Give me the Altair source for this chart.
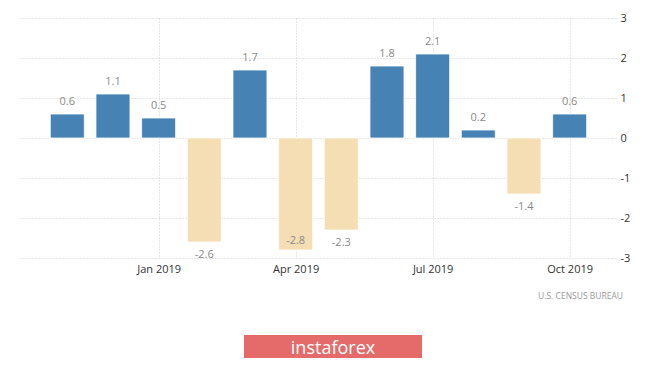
import altair as alt
import pandas as pd

months = ["Nov 2018", "Dec 2018", "Jan 2019", "Feb 2019", "Mar 2019", "Apr 2019",
          "May 2019", "Jun 2019", "Jul 2019", "Aug 2019", "Sep 2019", "Oct 2019"]
values = [0.6, 1.1, 0.5, -2.6, 1.7, -2.8, -2.3, 1.8, 2.1, 0.2, -1.4, 0.6]
tick_idx = [2, 5, 8, 11]
tick_labels = ["Jan 2019", "Apr 2019", "Jul 2019", "Oct 2019"]
y_ticks = [-3, -2, -1, 0, 1, 2, 3]
source_text = "U.S.  CENSUS  BUREAU"
brand_text = "instaforex"

df = pd.DataFrame({"idx": list(range(len(months))), "month": months, "value": values})
df["sign"] = ["pos" if v >= 0 else "neg" for v in values]
df["lt"] = [f"{v:.1f}" for v in values]

label_expr = " : ".join(
    [f"datum.value == {i} ? '{l}'" for i, l in zip(tick_idx, tick_labels)]
) + " : ''"

FONT = "Open Sans"

x_scale = alt.Scale(domain=[-0.926, 11.818], nice=False, zero=False)
y_scale = alt.Scale(domain=[-3, 3], nice=False)

x_axis = alt.Axis(
    values=tick_idx, labelExpr=label_expr, title=None, grid=True,
    gridDash=[1, 2], gridColor="#cfcfcf", domain=False, ticks=False,
    labelPadding=5, labelFontSize=11, labelColor="#333333", labelFont=FONT,
    labelOverlap=False,
)
y_axis = alt.Axis(
    orient="right", values=y_ticks, title=None, grid=True, gridDash=[1, 2],
    gridColor="#cfcfcf", domain=False, ticks=True, tickSize=5, tickColor="#cfcfcf",
    tickDash=[1, 2], labelPadding=3, labelFontSize=11, labelColor="#333333",
    labelFont=FONT, labelOverlap=False, labelBound=False, labelExpr="datum.value + ''",
)

base = alt.Chart(df)

bars = base.mark_bar(size=34, stroke="white", strokeWidth=0.8).encode(
    x=alt.X("idx:Q", scale=x_scale, axis=x_axis),
    y=alt.Y("value:Q", scale=y_scale, axis=y_axis),
    color=alt.Color("sign:N", scale=alt.Scale(domain=["pos", "neg"], range=["#4682b4", "#f5deb3"]), legend=None),
)

labels = base.transform_calculate(
    ly="datum.value >= 0 ? datum.value + 0.3 : (datum.value - 0.32 < -3 ? datum.value + 0.22 : datum.value - 0.32)",
).mark_text(fontSize=11, font=FONT, color="#8a8a8a", baseline="middle").encode(
    x=alt.X("idx:Q", scale=x_scale, axis=x_axis),
    y=alt.Y("ly:Q", scale=y_scale, axis=y_axis),
    text="lt:N",
)

src = alt.Chart(pd.DataFrame({"t": [source_text]})).mark_text(
    align="right", baseline="middle", fontSize=8.5, font=FONT, color="#999999"
).encode(x=alt.value(603), y=alt.value(278), text="t:N")

btn = alt.Chart(pd.DataFrame({"t": [brand_text]})).mark_rect(color="#e56b6b").encode(
    x=alt.value(224), x2=alt.value(402), y=alt.value(317), y2=alt.value(346)
)
btn_txt = alt.Chart(pd.DataFrame({"t": [brand_text]})).mark_text(
    align="center", baseline="middle", fontSize=18, font=FONT, color="white"
).encode(x=alt.value(313), y=alt.value(331), text="t:N")

chart = alt.layer(bars, labels, src, btn, btn_txt).properties(
    width=592, height=240,
    autosize=alt.AutoSizeParams(type="none"),
    padding={"left": 12, "top": 10, "right": 45, "bottom": 100},
    background="white",
).configure_view(strokeWidth=0)

chart.save("out.html", embed_options={"renderer": "svg", "actions": False})
